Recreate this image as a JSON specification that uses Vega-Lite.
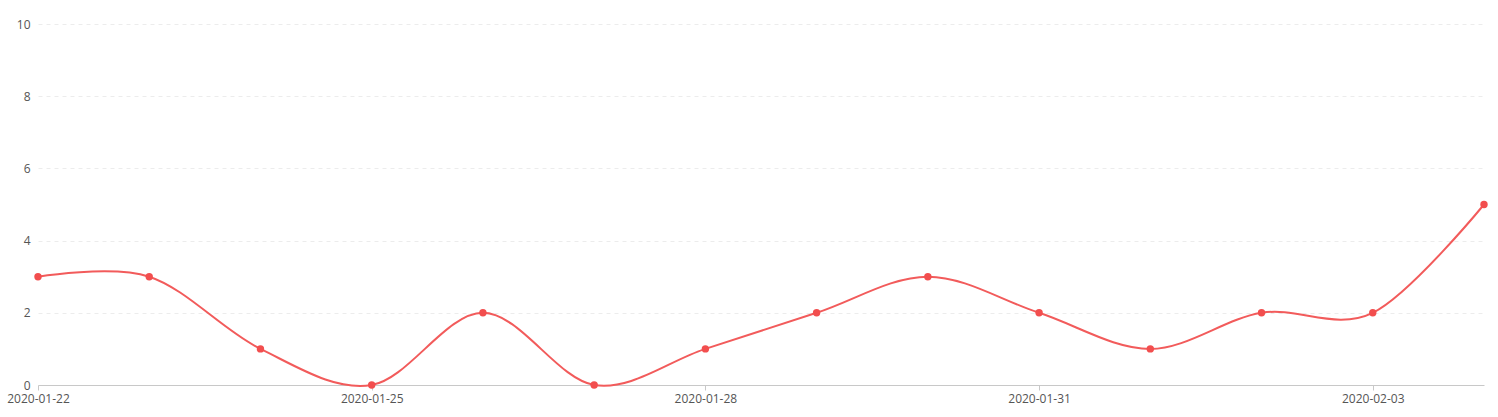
{
  "$schema": "https://vega.github.io/schema/vega-lite/v6.json",
  "autosize": {"type": "none"},
  "width": 1446,
  "height": 361,
  "padding": {"left": 38, "top": 24, "right": 14, "bottom": 32},
  "background": "white",
  "config": {"view": {"stroke": null}, "font": "Open Sans"},
  "data": {"values": [
    {"date": "2020-01-22", "value": 3},
    {"date": "2020-01-23", "value": 3},
    {"date": "2020-01-24", "value": 1},
    {"date": "2020-01-25", "value": 0},
    {"date": "2020-01-26", "value": 2},
    {"date": "2020-01-27", "value": 0},
    {"date": "2020-01-28", "value": 1},
    {"date": "2020-01-29", "value": 2},
    {"date": "2020-01-30", "value": 3},
    {"date": "2020-01-31", "value": 2},
    {"date": "2020-02-01", "value": 1},
    {"date": "2020-02-02", "value": 2},
    {"date": "2020-02-03", "value": 2},
    {"date": "2020-02-04", "value": 5}
  ]},
  "encoding": {
    "x": {
      "field": "date", "type": "temporal",
      "scale": {"type": "utc", "nice": false},
      "axis": {
        "title": null,
        "labelExpr": "utcFormat(datum.value, '%Y-%m-%d')",
        "values": [
          {"year": 2020, "month": 1, "date": 22, "utc": true},
          {"year": 2020, "month": 1, "date": 25, "utc": true},
          {"year": 2020, "month": 1, "date": 28, "utc": true},
          {"year": 2020, "month": 1, "date": 31, "utc": true},
          {"year": 2020, "month": 2, "date": 3, "utc": true}
        ],
        "grid": false,
        "domainColor": "#c8c8c8",
        "tickColor": "#c8c8c8",
        "tickSize": 5,
        "labelColor": "#555",
        "labelFontSize": 12,
        "labelPadding": 3,
        "labelFlush": false,
        "labelOverlap": false
      }
    },
    "y": {
      "field": "value", "type": "quantitative",
      "scale": {"domain": [0, 10], "nice": false},
      "axis": {
        "title": null,
        "values": [0, 2, 4, 6, 8, 10],
        "domain": false,
        "ticks": false,
        "grid": true,
        "gridColor": "#ececec",
        "gridDash": [4, 4],
        "labelColor": "#555",
        "labelFontSize": 12,
        "labelPadding": 8
      }
    }
  },
  "layer": [
    {
      "mark": {"type": "line", "interpolate": "cardinal", "color": "#f25b5b", "strokeWidth": 2}
    },
    {
      "mark": {"type": "point", "filled": true, "color": "#f24e4e", "size": 55, "opacity": 1}
    }
  ]
}
